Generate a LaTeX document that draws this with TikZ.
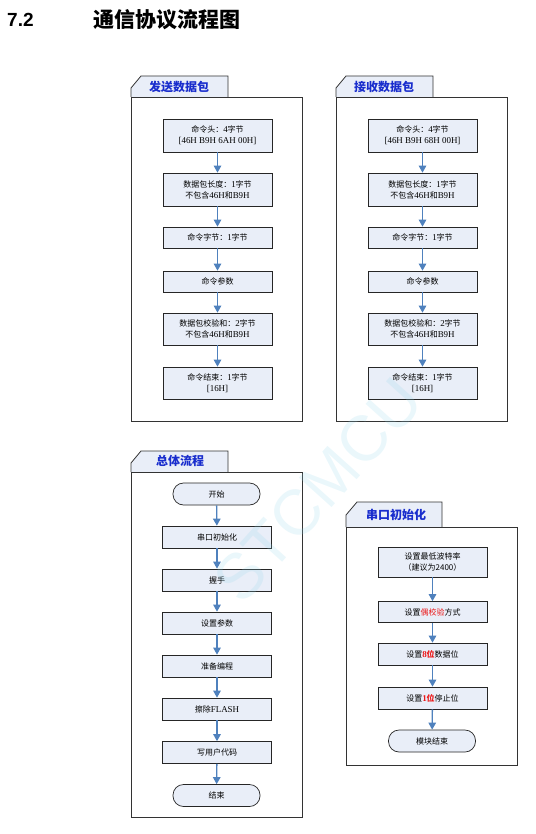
\documentclass[tikz,border=0pt]{standalone}
\usepackage{fontspec}
\setmainfont{Noto Sans CJK SC}
\newfontfamily\ltnfont{Liberation Serif}[Scale=1.12]
\newfontfamily\headfont{Liberation Sans}
\usetikzlibrary{positioning,arrows.meta,calc}
\definecolor{boxfill}{RGB}{233,238,248}
\definecolor{flowblue}{RGB}{79,129,189}
\definecolor{tabblue}{RGB}{25,45,205}
\definecolor{markred}{RGB}{235,25,25}
\definecolor{wmcyan}{RGB}{150,215,235}
\newcommand{\ltn}[1]{{\ltnfont #1}}

\begin{document}
\begin{tikzpicture}[x=1pt,y=-1pt,
  frame/.style={draw=black!80, line width=0.8pt},
  tablabel/.style={font=\fontsize{12}{12}\selectfont\bfseries, text=tabblue},
  stepbox/.style={draw=black!85, fill=boxfill, line width=0.7pt, minimum width=109pt,
    minimum height=21pt, inner sep=1pt, align=center, font=\fontsize{8}{11}\selectfont},
  endbox/.style={stepbox, rounded corners=10.5pt, minimum width=87pt, minimum height=22pt},
  flow/.style={draw=flowblue, line width=1.3pt, -{Triangle[width=7.5pt,length=7pt]}}]
  \useasboundingbox (0,0) rectangle (535,834);
  % heading
  \node[anchor=west, inner sep=0pt, font=\headfont\bfseries\fontsize{19}{19}\selectfont] (secnum) at (7,20) {7.2};
  \node[anchor=west, inner sep=0pt, font=\bfseries\fontsize{21}{21}\selectfont] (sectitle) at (93,20) {通信协议流程图};

  % send frame
  \draw[frame, fill=boxfill] (131,97) -- (131,88) -- (141,76) -- (228,76) -- (228,97);
  \draw[frame, fill=white] (131,97) rectangle (302,421);
  \node[tablabel] (sendtab) at (179,87) {发送数据包};
  \node[stepbox, minimum height=33pt] (s1) at (217.5,135.5) {命令头：\ltn{4}字节\\\ltn{[46H B9H 6AH 00H]}};
  \node[stepbox, minimum height=33pt] (s2) at (217.5,189.5) {数据包长度：\ltn{1}字节\\不包含\ltn{46H}和\ltn{B9H}};
  \node[stepbox] (s3) at (217.5,237.5) {命令字节：\ltn{1}字节};
  \node[stepbox] (s4) at (217.5,281.5) {命令参数};
  \node[stepbox, minimum height=32pt] (s5) at (217.5,329) {数据包校验和：\ltn{2}字节\\不包含\ltn{46H}和\ltn{B9H}};
  \node[stepbox, minimum height=32pt] (s6) at (217.5,383) {命令结束：\ltn{1}字节\\\ltn{[16H]}};

  % receive frame
  \draw[frame, fill=boxfill] (336,97) -- (336,88) -- (346,76) -- (433,76) -- (433,97);
  \draw[frame, fill=white] (336,97) rectangle (507,421);
  \node[tablabel] (recvtab) at (384,87) {接收数据包};
  \node[stepbox, minimum height=33pt] (r1) at (422.5,135.5) {命令头：\ltn{4}字节\\\ltn{[46H B9H 68H 00H]}};
  \node[stepbox, minimum height=33pt] (r2) at (422.5,189.5) {数据包长度：\ltn{1}字节\\不包含\ltn{46H}和\ltn{B9H}};
  \node[stepbox] (r3) at (422.5,237.5) {命令字节：\ltn{1}字节};
  \node[stepbox] (r4) at (422.5,281.5) {命令参数};
  \node[stepbox, minimum height=32pt] (r5) at (422.5,329) {数据包校验和：\ltn{2}字节\\不包含\ltn{46H}和\ltn{B9H}};
  \node[stepbox, minimum height=32pt] (r6) at (422.5,383) {命令结束：\ltn{1}字节\\\ltn{[16H]}};

  % overall flow
  \draw[frame, fill=boxfill] (131,472) -- (131,463) -- (141,451) -- (228,451) -- (228,472);
  \draw[frame, fill=white] (131,472) rectangle (302,817);
  \node[tablabel] (alltab) at (180,461) {总体流程};
  \node[endbox] (m0) at (216.5,494) {开始};
  \node[stepbox, minimum height=22pt] (m1) at (217,537) {串口初始化};
  \node[stepbox, minimum height=22pt] (m2) at (217,580) {握手};
  \node[stepbox, minimum height=22pt] (m3) at (217,623) {设置参数};
  \node[stepbox, minimum height=22pt] (m4) at (217,666) {准备编程};
  \node[stepbox, minimum height=22pt] (m5) at (217,709) {擦除\ltn{FLASH}};
  \node[stepbox, minimum height=22pt] (m6) at (217,752.5) {写用户代码};
  \node[endbox] (m7) at (216.5,795.5) {结束};

  % uart init
  \draw[frame, fill=boxfill] (346,527) -- (346,515) -- (357,502) -- (442,502) -- (442,527);
  \draw[frame, fill=white] (346,527) rectangle (517,765);
  \node[tablabel] (uarttab) at (396,515) {串口初始化};
  \node[stepbox, minimum height=30pt] (u1) at (432.5,562) {设置最低波特率\\（建议为2400）};
  \node[stepbox] (u2) at (432.5,612) {设置\textcolor{markred}{偶校验}方式};
  \node[stepbox, minimum height=22pt] (u3) at (432.5,654) {设置\textcolor{markred}{\bfseries\ltn{8}位}数据位};
  \node[stepbox, minimum height=22pt] (u4) at (432.5,698) {设置\textcolor{markred}{\bfseries\ltn{1}位}停止位};
  \node[endbox] (u5) at (432,741) {模块结束};

  \foreach \a/\b in {s1/s2,s2/s3,s3/s4,s4/s5,s5/s6,r1/r2,r2/r3,r3/r4,r4/r5,r5/r6,
    m0/m1,m1/m2,m2/m3,m3/m4,m4/m5,m5/m6,m6/m7,u1/u2,u2/u3,u3/u4,u4/u5}
    \draw[flow] (\a) -- (\b);

  % watermark
  \node[rotate=48, text=wmcyan, text opacity=0.2, font=\headfont\fontsize{64}{64}\selectfont] (mark) at (318,490) {STCMCU};
\end{tikzpicture}
\end{document}
